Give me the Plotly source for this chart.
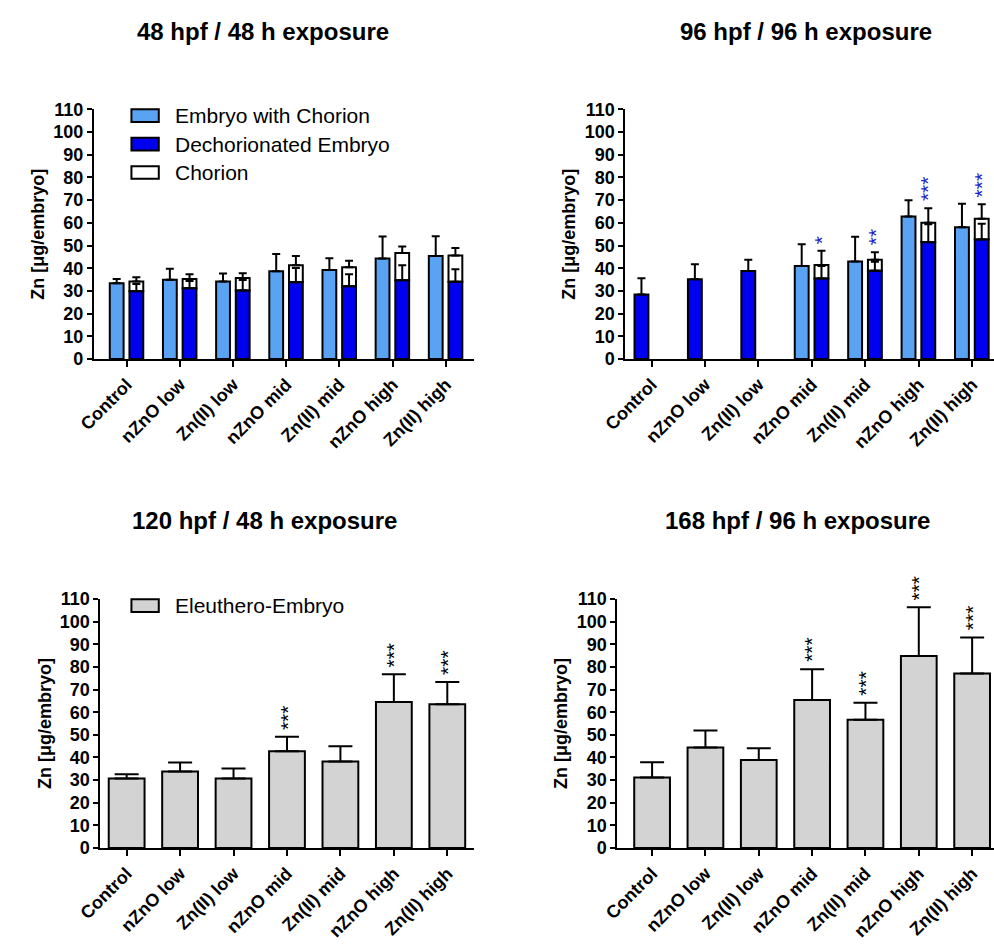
import plotly.graph_objects as go

# ---------------- data ----------------
categories = ["Control", "nZnO low", "Zn(II) low", "nZnO mid", "Zn(II) mid", "nZnO high", "Zn(II) high"]

series_names_top = ["Embryo with Chorion", "Dechorionated Embryo", "Chorion"]
series_name_bottom = "Eleuthero-Embryo"

panel_titles = ["48 hpf / 48 h exposure", "96 hpf / 96 h exposure",
                "120 hpf / 48 h exposure", "168 hpf / 96 h exposure"]

# 48 hpf / 48 h exposure
embryo_48 = [33.4, 34.9, 34.1, 38.7, 39.2, 44.3, 45.4]
embryo_48_sd = [1.8, 4.9, 3.6, 7.6, 5.2, 9.7, 8.7]
dechor_48 = [29.8, 31.2, 30.2, 33.8, 32.1, 34.7, 34.0]
dechor_48_sd = [3.2, 3.2, 4.6, 6.3, 5.2, 6.6, 5.5]
chorion_48 = [4.3, 4.0, 5.5, 7.5, 8.3, 12.0, 11.6]
chorion_48_sd = [1.9, 2.1, 2.1, 4.1, 2.9, 2.9, 3.3]

# 96 hpf / 96 h exposure
embryo_96 = [None, None, None, 41.0, 43.0, 62.8, 58.0]
embryo_96_sd = [None, None, None, 9.6, 10.9, 7.2, 10.4]
dechor_96 = [28.4, 35.1, 38.8, 35.5, 38.9, 51.4, 52.6]
dechor_96_sd = [7.2, 6.7, 4.9, 5.5, 4.0, 8.0, 7.0]
chorion_96 = [None, None, None, 5.9, 4.8, 8.6, 9.2]
chorion_96_sd = [None, None, None, 6.3, 3.3, 6.4, 6.4]
sig_96 = ["", "", "", "*", "**", "***", "***"]

# 120 hpf / 48 h exposure
eleuthero_120 = [30.7, 33.8, 30.7, 42.7, 38.2, 64.5, 63.5]
eleuthero_120_sd = [1.9, 4.0, 4.4, 6.5, 6.7, 12.3, 9.8]
sig_120 = ["", "", "", "***", "", "***", "***"]

# 168 hpf / 96 h exposure
eleuthero_168 = [31.1, 44.4, 38.9, 65.4, 56.7, 84.8, 77.1]
eleuthero_168_sd = [6.8, 7.5, 5.2, 13.6, 7.5, 21.6, 15.9]
sig_168 = ["", "", "", "***", "***", "***", "***"]

y_ticks = [0, 10, 20, 30, 40, 50, 60, 70, 80, 90, 100, 110]

# ---------------- style ----------------
W, H = 994, 950
LIGHT = "#5aa2f2"
DARK = "#0000f0"
GREY = "#d3d3d3"
STAR_BLUE = "#1f1fc8"
FONT = "Arial"

def px_x(v):
    return v / W

def px_y(v):
    return 1 - v / H

OFF_L, OFF_R, BW = -0.32, 0.05, 0.26
BOFF, BBW = -0.335, 0.67

fig = go.Figure()

def err(arr, width):
    return dict(type="data", array=arr, arrayminus=[0] * len(arr), symmetric=False,
                color="black", thickness=2, width=width)

line = dict(color="black", width=2)

# Panel 1
fig.add_trace(go.Bar(x=categories, y=embryo_48, name=series_names_top[0], xaxis="x", yaxis="y",
                     offset=OFF_L, width=BW, marker=dict(color=LIGHT, line=line),
                     error_y=err(embryo_48_sd, 4), showlegend=False))
fig.add_trace(go.Bar(x=categories, y=chorion_48, base=dechor_48, name=series_names_top[2], xaxis="x", yaxis="y",
                     offset=OFF_R, width=BW, marker=dict(color="white", line=line),
                     error_y=err(chorion_48_sd, 4), showlegend=False))
fig.add_trace(go.Bar(x=categories, y=dechor_48, name=series_names_top[1], xaxis="x", yaxis="y",
                     offset=OFF_R, width=BW, marker=dict(color=DARK, line=line),
                     error_y=err(dechor_48_sd, 4), showlegend=False))

# Panel 2
dechor_96_off = [OFF_L if e is None else OFF_R for e in embryo_96]
fig.add_trace(go.Bar(x=categories, y=embryo_96, name=series_names_top[0], xaxis="x2", yaxis="y2",
                     offset=OFF_L, width=BW, marker=dict(color=LIGHT, line=line),
                     error_y=err(embryo_96_sd, 4), showlegend=False))
fig.add_trace(go.Bar(x=categories, y=chorion_96, base=dechor_96, name=series_names_top[2], xaxis="x2", yaxis="y2",
                     offset=OFF_R, width=BW, marker=dict(color="white", line=line),
                     error_y=err(chorion_96_sd, 4), showlegend=False))
fig.add_trace(go.Bar(x=categories, y=dechor_96, name=series_names_top[1], xaxis="x2", yaxis="y2",
                     offset=dechor_96_off, width=BW, marker=dict(color=DARK, line=line),
                     error_y=err(dechor_96_sd, 4), showlegend=False))

# Panel 3
fig.add_trace(go.Bar(x=categories, y=eleuthero_120, name=series_name_bottom, xaxis="x3", yaxis="y3",
                     offset=BOFF, width=BBW, marker=dict(color=GREY, line=line),
                     error_y=err(eleuthero_120_sd, 12), showlegend=False))
# Panel 4
fig.add_trace(go.Bar(x=categories, y=eleuthero_168, name=series_name_bottom, xaxis="x4", yaxis="y4",
                     offset=BOFF, width=BBW, marker=dict(color=GREY, line=line),
                     error_y=err(eleuthero_168_sd, 12), showlegend=False))

annotations = []

def add_stars(sig, tops, sds, xref, yref, center, color):
    for i, s in enumerate(sig):
        if s:
            annotations.append(dict(x=i + center, y=tops[i] + sds[i], xref=xref, yref=yref,
                                    text=s, showarrow=False, textangle=-90,
                                    xanchor="center", yanchor="bottom", yshift=5,
                                    font=dict(family=FONT, size=21, color=color)))

stack_96 = [(d + c) if c is not None else d for d, c in zip(dechor_96, chorion_96)]
stack_96_sd = [c if c is not None else 0 for c in chorion_96_sd]
add_stars(sig_96, stack_96, stack_96_sd, "x2", "y2", OFF_R + BW / 2, STAR_BLUE)
add_stars(sig_120, eleuthero_120, eleuthero_120_sd, "x3", "y3", 0, "black")
add_stars(sig_168, eleuthero_168, eleuthero_168_sd, "x4", "y4", 0, "black")

# panel titles
title_pos = [(246, 22), (802, 22), (247, 521), (793, 521)]
for t, (tx, ty) in zip(panel_titles, title_pos):
    annotations.append(dict(x=px_x(tx), y=px_y(ty), xref="paper", yref="paper", text="<b>%s</b>" % t,
                            showarrow=False, xanchor="center", yanchor="middle",
                            font=dict(family=FONT, size=24, color="black")))

# legends (drawn as boxes + labels)
shapes = []
def legend_item(x0, yc, name, color):
    shapes.append(dict(type="rect", xref="paper", yref="paper",
                       x0=px_x(x0), x1=px_x(x0 + 28), y0=px_y(yc + 6.5), y1=px_y(yc - 6.5),
                       fillcolor=color, line=dict(color="black", width=2)))
    annotations.append(dict(x=px_x(x0 + 43), y=px_y(yc), xref="paper", yref="paper", text=name,
                            showarrow=False, xanchor="left", yanchor="middle",
                            font=dict(family=FONT, size=21, color="black")))

legend_item(111, 108, series_names_top[0], LIGHT)
legend_item(111, 137, series_names_top[1], DARK)
legend_item(111, 166, series_names_top[2], "white")
legend_item(111, 608.5, series_name_bottom, GREY)

ytickfont = dict(family=FONT, size=18, color="black", weight="bold")
xtickfont = dict(family=FONT, size=18, color="black", weight="bold")

def xaxis(dom, rng, anchor):
    return dict(domain=dom, range=rng, anchor=anchor, showline=True, linecolor="black", linewidth=2,
                ticks="outside", ticklen=6, tickwidth=2, tickcolor="black", tickangle=-45,
                tickfont=xtickfont, showgrid=False, zeroline=False, type="category")

def yaxis(dom, anchor):
    return dict(domain=dom, range=[0, 110], anchor=anchor, showline=True, linecolor="black", linewidth=2,
                ticks="outside", ticklen=5, tickwidth=2, tickcolor="black", tickvals=y_ticks,
                tickfont=ytickfont, showgrid=False, zeroline=False,
                title=dict(text="Zn [μg/embryo]", standoff=4,
                           font=dict(family=FONT, size=18, color="black", weight="bold")))

top_dom = [px_y(356.5), px_y(101.5)]
bot_dom = [px_y(856), px_y(601.7)]

fig.update_layout(
    width=W, height=H,
    margin=dict(l=0, r=0, t=0, b=0),
    paper_bgcolor="white", plot_bgcolor="white",
    barmode="overlay",
    hovermode=False,
    font=dict(family=FONT, color="black"),
    xaxis=xaxis([px_x(72.5), px_x(461.7)], [-0.62, 6.53], "y"),
    yaxis=yaxis(top_dom, "x"),
    xaxis2=xaxis([px_x(616.7), 1.0], [-0.49, 6.41], "y2"),
    yaxis2=yaxis(top_dom, "x2"),
    xaxis3=xaxis([px_x(79.3), px_x(461.7)], [-0.49, 6.5], "y3"),
    yaxis3=yaxis(bot_dom, "x3"),
    xaxis4=xaxis([px_x(608.5), 1.0], [-0.65, 6.41], "y4"),
    yaxis4=yaxis(bot_dom, "x4"),
    annotations=annotations,
    shapes=shapes,
    showlegend=False,
)

fig.write_html("out.html",
               config={"displayModeBar": False},
               post_script="document.body.style.margin='0px';document.body.style.overflow='hidden';")
